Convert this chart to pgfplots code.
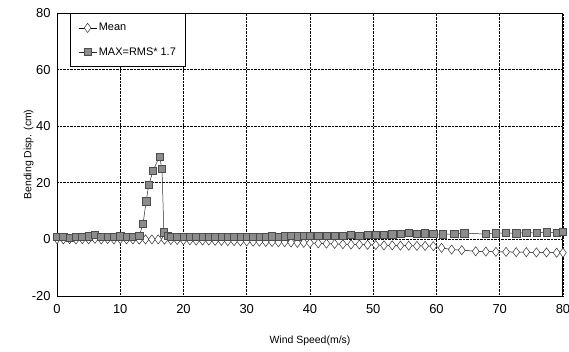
\documentclass[border=0pt]{standalone}
\usepackage{fontspec}
\setmainfont{Liberation Sans}
\usepackage{pgfplots}
\pgfplotsset{compat=1.18}
\begin{document}
\begin{tikzpicture}[x=1bp,y=1bp]
\useasboundingbox (-57bp,-56bp) rectangle (512bp,296bp);
\begin{axis}[
  at={(0,0)}, anchor=south west,
  scale only axis,
  width=506bp, height=283bp,
  xmin=0, xmax=80, ymin=-20, ymax=80,
  xtick={0,10,...,80}, ytick={-20,0,...,80},
  grid=major,
  major grid style={black, densely dotted, line width=0.8pt},
  axis line style={black, line width=1pt},
  tick style={draw=none},
  /pgf/number format/assume math mode=true,
  ticklabel style={font=\fontsize{13}{15}\selectfont},
  xticklabel style={yshift=-5bp},
  yticklabel style={xshift=-3bp},
  xlabel={Wind Speed(m/s)},
  ylabel={Bending Disp. (cm)},
  label style={font=\fontsize{10.5}{12}\selectfont},
  xlabel style={at={(axis description cs:0.5,0)}, anchor=north, yshift=-36bp},
  ylabel style={at={(axis description cs:0,0.5)}, anchor=south, xshift=0bp, yshift=20bp},
  legend style={at={(axis cs:2.05,80)}, anchor=north west, draw=black, line width=0.8pt,
    font=\fontsize{11}{13}\selectfont, row sep=11bp, inner xsep=8bp, inner ysep=8bp, fill=white},
  legend cell align=left,
  legend image post style={sharp plot},
  legend image code/.code={\draw[#1] (0bp,0bp) -- (18bp,0bp); \draw[#1,mark repeat=2,mark phase=2] plot coordinates {(0bp,0bp)(9bp,0bp)(18bp,0bp)};},
]
\addplot[black, line width=0.5pt, mark=diamond*, mark size=4.6pt,
  mark options={fill=white, draw=black!80, line width=0.5pt}] coordinates {
(0,0.1)(1,0.0)(2,0.1)(3,0.0)(4,0.1)(5,0.0)(6,0.2)(7,0.0)(8,0.1)(9,0.0)(10,0.1)
(11,0.0)(12,0.0)(13,-0.1)(14,0.0)(15,0.0)(16,0.0)(17,-0.1)(18,-0.2)(19,-0.2)(20,-0.3)
(21,-0.3)(22,-0.4)(23,-0.4)(24,-0.4)(25,-0.5)(26,-0.5)(27,-0.6)(28,-0.6)(29,-0.7)(30,-0.7)
(31,-0.8)(32,-0.8)(33,-0.9)(34,-0.9)(35,-1.0)(36,-1.0)(37,-1.1)(38,-1.2)(39,-1.2)(40,-1.3)
(41.3,-1.4)(42.6,-1.5)(43.9,-1.6)(45.2,-1.7)(46.5,-1.8)(47.8,-1.8)(49.1,-1.9)(50.4,-2.0)
(51.7,-2.1)(53,-2.1)(54.3,-2.2)(55.6,-2.2)(56.9,-2.3)(58.2,-2.3)(59.5,-2.4)(60.8,-3.0)
(62.4,-3.6)(64,-3.8)(66.2,-4.2)(67.8,-4.3)(69.4,-4.4)(71,-4.4)(72.6,-4.5)(74.2,-4.5)
(75.8,-4.6)(77.4,-4.6)(79,-4.7)(80,-4.7)
};
\addlegendentry{Mean}
\addplot[black!85, line width=0.5pt, mark=square*, mark size=3.6pt,
  mark options={fill=black!45, draw=black!70, line width=0.5pt}] coordinates {
(0,0.8)(1,0.9)(2,0.7)(3,1.0)(4,0.8)(5,1.1)(6,1.6)(7,1.0)(8,0.9)(9,1.0)(10,1.1)
(11,0.9)(12,1.0)(13,1.2)(13.6,5.5)(14.1,13.5)(14.5,19.2)(15.2,24.3)(16.2,29.3)(16.6,25.0)
(16.9,2.5)(17.5,1.2)(18,0.9)(19,1.0)(20,0.9)
(21,0.8)(22,0.9)(23,0.8)(24,0.9)(25,0.8)(26,0.9)(27,0.8)(28,0.9)(29,1.0)(30,0.9)
(31,1.0)(32,0.9)(33,1.0)(34,1.1)(35,1.0)(36,1.1)(37,1.2)(38,1.1)(39,1.2)(40,1.3)
(41.3,1.2)(42.6,1.3)(43.9,1.4)(45.2,1.3)(46.5,1.5)(47.8,1.4)(49.1,1.6)(50.4,1.5)
(51.7,1.7)(53,1.8)(54.3,2.0)(55.6,2.3)(56.9,2.1)(58.2,2.2)(59.5,2.0)(61,1.8)
(62.8,1.9)(64.4,2.2)(67.8,1.9)(69.4,2.2)(71,2.3)(72.6,2.2)(74.2,2.4)
(75.8,2.3)(77.4,2.5)(79,2.4)(80,2.6)
};
\addlegendentry{MAX=RMS* 1.7}
\end{axis}
\end{tikzpicture}
\end{document}
